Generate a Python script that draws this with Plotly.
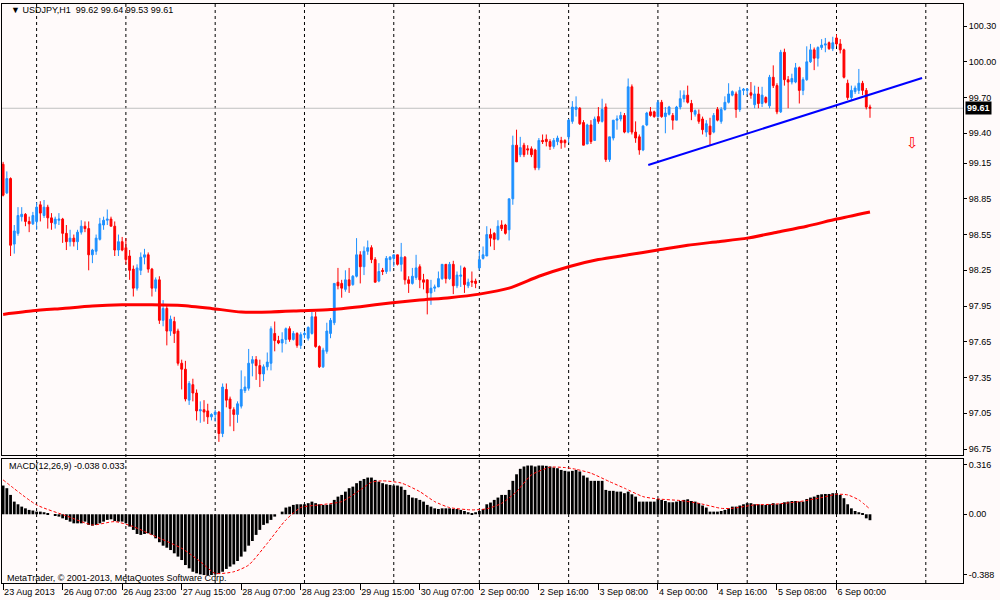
import plotly.graph_objects as go

# USDJPY H1 bars, index 0 = 23 Aug 2013 15:00
opens = [
    99.14, 98.90, 99.02, 98.47, 98.56, 98.70, 98.72, 98.66, 98.64, 98.66,
    98.80, 98.71, 98.78, 98.69, 98.64, 98.67, 98.68, 98.56, 98.49, 98.52,
    98.49, 98.57, 98.62, 98.60, 98.38, 98.41, 98.51, 98.63, 98.67, 98.68,
    98.62, 98.42, 98.49, 98.44, 98.37, 98.26, 98.10, 98.25, 98.36, 98.38,
    98.26, 98.10, 98.17, 97.83, 97.93, 97.74, 97.82, 97.74, 97.47, 97.42,
    97.16, 97.29, 97.22, 97.07, 97.08, 97.07, 97.02, 97.04, 97.06, 96.88,
    97.25, 97.17, 97.08, 97.04, 97.11, 97.24, 97.26, 97.47, 97.50, 97.45,
    97.38, 97.44, 97.47, 97.72, 97.66, 97.64, 97.67, 97.76, 97.67, 97.72,
    97.62, 97.71, 97.68, 97.72, 97.86, 97.61, 97.44, 97.57, 97.72, 97.81,
    98.15, 98.14, 98.09, 98.17, 98.13, 98.20, 98.38, 98.28, 98.41, 98.44,
    98.34, 98.16, 98.25, 98.24, 98.34, 98.35, 98.38, 98.30, 98.36, 98.17,
    98.14, 98.19, 98.28, 98.17, 98.17, 98.06, 98.10, 98.11, 98.18, 98.30,
    98.18, 98.30, 98.12, 98.20, 98.27, 98.12, 98.16, 98.16, 98.27, 98.35,
    98.37, 98.55, 98.56, 98.51, 98.63, 98.63, 98.59, 98.85, 99.30, 99.22,
    99.30, 99.27, 99.27, 99.26, 99.11, 99.34, 99.35, 99.33, 99.29, 99.33,
    99.34, 99.34, 99.37, 99.50, 99.60, 99.61, 99.49, 99.31, 99.47, 99.34,
    99.54, 99.50, 99.62, 99.18, 99.36, 99.51, 99.52, 99.55, 99.41, 99.79,
    99.41, 99.37, 99.26, 99.47, 99.58, 99.58, 99.54, 99.66, 99.54, 99.56,
    99.55, 99.51, 99.62, 99.69, 99.72, 99.65, 99.56, 99.56, 99.52, 99.41,
    99.46, 99.41, 99.60, 99.50, 99.60, 99.66, 99.72, 99.73, 99.60, 99.76,
    99.76, 99.74, 99.64, 99.73, 99.65, 99.70, 99.63, 99.87, 99.80, 99.58,
    100.08, 99.85, 99.83, 99.83, 99.95, 99.76, 99.85, 100.00, 100.10, 100.03,
    100.12, 100.14, 100.16, 100.11, 100.20, 100.15, 100.10, 99.82, 99.70, 99.75,
    99.76, 99.82, 99.76, 99.62,
]
highs = [
    99.16, 99.08, 99.03, 98.63, 98.78, 98.78, 98.73, 98.70, 98.74, 98.82,
    98.83, 98.84, 98.80, 98.73, 98.70, 98.73, 98.69, 98.63, 98.59, 98.55,
    98.59, 98.67, 98.66, 98.66, 98.43, 98.55, 98.69, 98.70, 98.76, 98.70,
    98.66, 98.55, 98.53, 98.52, 98.42, 98.29, 98.30, 98.40, 98.43, 98.40,
    98.27, 98.19, 98.20, 98.00, 97.95, 97.87, 97.86, 97.76, 97.50, 97.49,
    97.32, 97.34, 97.25, 97.15, 97.16, 97.13, 97.05, 97.08, 97.07, 97.30,
    97.30, 97.19, 97.10, 97.15, 97.41, 97.36, 97.59, 97.53, 97.53, 97.50,
    97.46, 97.56, 97.78, 97.82, 97.70, 97.73, 97.77, 97.78, 97.74, 97.73,
    97.73, 97.74, 97.78, 97.90, 97.90, 97.62, 97.60, 97.81, 97.85, 98.14,
    98.27, 98.17, 98.25, 98.27, 98.21, 98.52, 98.41, 98.45, 98.50, 98.46,
    98.36, 98.31, 98.27, 98.37, 98.37, 98.38, 98.38, 98.48, 98.37, 98.20,
    98.27, 98.38, 98.30, 98.22, 98.17, 98.17, 98.13, 98.24, 98.30, 98.30,
    98.32, 98.33, 98.24, 98.29, 98.28, 98.18, 98.24, 98.18, 98.41, 98.45,
    98.62, 98.60, 98.57, 98.67, 98.67, 98.64, 98.85, 99.38, 99.43, 99.37,
    99.32, 99.30, 99.29, 99.27, 99.36, 99.39, 99.39, 99.35, 99.36, 99.38,
    99.37, 99.35, 99.52, 99.67, 99.71, 99.62, 99.51, 99.48, 99.51, 99.54,
    99.62, 99.69, 99.65, 99.37, 99.51, 99.55, 99.58, 99.57, 99.86, 99.81,
    99.50, 99.39, 99.47, 99.58, 99.62, 99.59, 99.68, 99.68, 99.62, 99.63,
    99.57, 99.63, 99.76, 99.76, 99.80, 99.68, 99.60, 99.60, 99.54, 99.51,
    99.53, 99.57, 99.62, 99.62, 99.71, 99.82, 99.76, 99.75, 99.79, 99.78,
    99.78, 99.83, 99.80, 99.79, 99.79, 99.71, 99.89, 99.97, 99.82, 100.10,
    100.11, 99.88, 99.90, 99.99, 99.96, 99.87, 100.13, 100.15, 100.12, 100.13,
    100.19, 100.20, 100.17, 100.21, 100.23, 100.19, 100.11, 99.85, 99.80, 99.80,
    99.94, 99.84, 99.78, 99.64,
]
lows = [
    98.87, 98.89, 98.37, 98.39, 98.54, 98.66, 98.62, 98.57, 98.63, 98.59,
    98.66, 98.69, 98.60, 98.59, 98.60, 98.63, 98.48, 98.42, 98.45, 98.45,
    98.42, 98.55, 98.57, 98.25, 98.31, 98.38, 98.50, 98.59, 98.63, 98.62,
    98.37, 98.37, 98.41, 98.30, 98.17, 98.03, 98.08, 98.21, 98.30, 98.23,
    98.03, 98.07, 97.80, 97.78, 97.62, 97.70, 97.64, 97.45, 97.25, 97.15,
    97.12, 97.15, 96.99, 96.97, 96.98, 96.96, 96.99, 96.98, 96.81, 96.85,
    97.10, 96.94, 96.90, 96.97, 97.09, 97.22, 97.24, 97.36, 97.33, 97.27,
    97.32, 97.41, 97.41, 97.57, 97.63, 97.56, 97.63, 97.65, 97.66, 97.60,
    97.59, 97.68, 97.66, 97.71, 97.60, 97.43, 97.43, 97.55, 97.68, 97.79,
    98.09, 98.02, 98.07, 98.06, 98.12, 98.19, 98.14, 98.21, 98.38, 98.31,
    98.15, 98.15, 98.21, 98.22, 98.24, 98.28, 98.29, 98.24, 98.13, 98.06,
    98.13, 98.17, 98.10, 98.09, 97.88, 97.96, 98.07, 98.11, 98.17, 98.14,
    98.17, 98.05, 98.10, 98.11, 98.06, 98.10, 98.11, 98.10, 98.25, 98.34,
    98.37, 98.45, 98.42, 98.50, 98.58, 98.55, 98.50, 98.80, 99.16, 99.20,
    99.20, 99.22, 99.20, 99.09, 99.09, 99.31, 99.29, 99.26, 99.27, 99.30,
    99.27, 99.28, 99.32, 99.48, 99.54, 99.47, 99.30, 99.31, 99.31, 99.34,
    99.48, 99.49, 99.16, 99.16, 99.34, 99.43, 99.50, 99.40, 99.40, 99.39,
    99.32, 99.22, 99.25, 99.46, 99.54, 99.53, 99.53, 99.53, 99.40, 99.55,
    99.43, 99.51, 99.60, 99.66, 99.65, 99.51, 99.54, 99.48, 99.39, 99.37,
    99.30, 99.40, 99.50, 99.48, 99.59, 99.65, 99.71, 99.53, 99.58, 99.72,
    99.72, 99.69, 99.61, 99.61, 99.62, 99.65, 99.61, 99.78, 99.56, 99.57,
    99.80, 99.61, 99.81, 99.82, 99.65, 99.72, 99.84, 99.99, 99.93, 99.96,
    100.10, 100.08, 100.10, 100.09, 100.13, 100.07, 99.86, 99.68, 99.67, 99.73,
    99.73, 99.72, 99.60, 99.53,
]
closes = [
    98.88, 99.02, 98.46, 98.58, 98.71, 98.72, 98.66, 98.64, 98.71, 98.78,
    98.73, 98.78, 98.69, 98.65, 98.68, 98.68, 98.56, 98.49, 98.52, 98.49,
    98.57, 98.62, 98.60, 98.38, 98.42, 98.52, 98.64, 98.67, 98.68, 98.62,
    98.42, 98.49, 98.42, 98.34, 98.25, 98.10, 98.27, 98.36, 98.38, 98.26,
    98.10, 98.17, 97.83, 97.93, 97.74, 97.84, 97.72, 97.47, 97.42, 97.17,
    97.30, 97.22, 97.07, 97.08, 97.06, 97.02, 97.04, 97.06, 96.88, 97.27,
    97.16, 97.09, 97.04, 97.13, 97.25, 97.27, 97.47, 97.50, 97.45, 97.38,
    97.44, 97.48, 97.76, 97.66, 97.64, 97.67, 97.76, 97.67, 97.72, 97.62,
    97.71, 97.72, 97.77, 97.86, 97.61, 97.44, 97.58, 97.74, 97.83, 98.14,
    98.12, 98.10, 98.17, 98.12, 98.20, 98.38, 98.28, 98.41, 98.44, 98.34,
    98.15, 98.24, 98.24, 98.35, 98.36, 98.38, 98.30, 98.36, 98.17, 98.14,
    98.20, 98.27, 98.17, 98.15, 98.06, 98.10, 98.11, 98.18, 98.30, 98.18,
    98.30, 98.12, 98.21, 98.21, 98.13, 98.15, 98.15, 98.14, 98.34, 98.38,
    98.55, 98.52, 98.51, 98.62, 98.60, 98.56, 98.85, 99.30, 99.16, 99.28,
    99.22, 99.26, 99.22, 99.11, 99.34, 99.33, 99.33, 99.29, 99.34, 99.36,
    99.32, 99.32, 99.51, 99.62, 99.62, 99.48, 99.30, 99.47, 99.33, 99.52,
    99.50, 99.60, 99.18, 99.37, 99.51, 99.52, 99.55, 99.41, 99.79, 99.41,
    99.36, 99.26, 99.46, 99.57, 99.55, 99.54, 99.66, 99.54, 99.57, 99.62,
    99.51, 99.62, 99.69, 99.72, 99.66, 99.58, 99.59, 99.50, 99.43, 99.48,
    99.39, 99.55, 99.51, 99.60, 99.66, 99.73, 99.75, 99.60, 99.76, 99.77,
    99.77, 99.72, 99.73, 99.65, 99.72, 99.66, 99.87, 99.80, 99.58, 100.08,
    99.85, 99.83, 99.86, 99.95, 99.76, 99.85, 100.00, 100.10, 100.03, 100.12,
    100.14, 100.15, 100.11, 100.16, 100.15, 100.10, 99.87, 99.70, 99.76, 99.78,
    99.82, 99.76, 99.62, 99.61,
]

# moving average (red line), read every 8 bars
ma_bars = [0, 8, 16, 24, 32, 40, 48, 56, 64, 72, 80, 88, 96, 104, 112,
           120, 128, 136, 144, 152, 160, 168, 176, 184, 192, 200, 208,
           216, 224, 233]
ma_values = [97.88, 97.91, 97.93, 97.95, 97.96, 97.96, 97.955, 97.93, 97.90,
             97.90, 97.91, 97.92, 97.945, 97.975, 98.00, 98.02, 98.05, 98.10,
             98.20, 98.28, 98.34, 98.38, 98.42, 98.46, 98.49, 98.52, 98.57,
             98.62, 98.68, 98.74]

# MACD(12,26,9) histogram, one value per bar
macd_main = [
    0.184, 0.167, 0.124, 0.081, 0.064, 0.049, 0.038, 0.028, 0.024, 0.017,
    0.017, 0.013, 0.006, 0.000, -0.009, -0.015, -0.026, -0.036, -0.047, -0.058,
    -0.058, -0.058, -0.047, -0.068, -0.073, -0.068, -0.058, -0.047, -0.036, -0.032,
    -0.043, -0.047, -0.047, -0.058, -0.079, -0.100, -0.126, -0.132, -0.126, -0.122,
    -0.132, -0.154, -0.179, -0.201, -0.214, -0.229, -0.250, -0.271, -0.293, -0.325,
    -0.346, -0.368, -0.378, -0.385, -0.389, -0.389, -0.389, -0.385, -0.378, -0.368,
    -0.350, -0.335, -0.321, -0.299, -0.271, -0.239, -0.201, -0.171, -0.132, -0.100,
    -0.068, -0.058, -0.036, -0.015, 0.000, 0.017, 0.043, 0.049, 0.060, 0.064,
    0.064, 0.064, 0.071, 0.081, 0.071, 0.064, 0.060, 0.060, 0.064, 0.092,
    0.113, 0.124, 0.145, 0.167, 0.177, 0.199, 0.214, 0.226, 0.235, 0.235,
    0.220, 0.209, 0.199, 0.192, 0.188, 0.184, 0.184, 0.177, 0.156, 0.124,
    0.107, 0.103, 0.092, 0.081, 0.060, 0.049, 0.038, 0.034, 0.038, 0.038,
    0.038, 0.034, 0.034, 0.028, 0.021, 0.013, 0.006, 0.013, 0.021, 0.034,
    0.064, 0.075, 0.092, 0.107, 0.124, 0.124, 0.156, 0.214, 0.256, 0.291,
    0.306, 0.312, 0.312, 0.306, 0.312, 0.312, 0.310, 0.306, 0.299, 0.295,
    0.284, 0.278, 0.274, 0.278, 0.284, 0.274, 0.248, 0.235, 0.214, 0.214,
    0.214, 0.214, 0.156, 0.150, 0.150, 0.145, 0.145, 0.135, 0.145, 0.128,
    0.113, 0.081, 0.081, 0.081, 0.081, 0.081, 0.098, 0.092, 0.085, 0.077,
    0.077, 0.081, 0.085, 0.092, 0.096, 0.085, 0.081, 0.071, 0.056, 0.043,
    0.017, 0.017, 0.017, 0.021, 0.028, 0.038, 0.049, 0.049, 0.056, 0.064,
    0.071, 0.071, 0.064, 0.064, 0.060, 0.060, 0.064, 0.071, 0.064, 0.068,
    0.077, 0.081, 0.085, 0.085, 0.081, 0.081, 0.098, 0.107, 0.113, 0.124,
    0.128, 0.130, 0.130, 0.135, 0.135, 0.124, 0.103, 0.064, 0.038, 0.021,
    0.013, 0.002, -0.026, -0.038,
]
# signal line (red dashed)
signal_bars = [0, 9, 17, 24, 30, 35, 40, 48, 53, 57, 62, 66, 71, 76, 80, 85,
               91, 96, 99, 102, 107, 112, 116, 120, 126, 130, 134, 138, 142,
               147, 151, 154, 158, 163, 167, 172, 176, 182, 187, 193, 196,
               202, 207, 214, 220, 224, 227, 230, 233]
signal_values = [0.22, 0.06, -0.01, -0.068, -0.047, -0.079, -0.132, -0.218,
                 -0.303, -0.378, -0.368, -0.325, -0.186, -0.036, 0.043, 0.06,
                 0.081, 0.156, 0.205, 0.214, 0.20, 0.145, 0.081, 0.043, 0.028,
                 0.035, 0.07, 0.145, 0.252, 0.301, 0.299, 0.288, 0.263, 0.209,
                 0.167, 0.113, 0.098, 0.088, 0.07, 0.038, 0.038, 0.06, 0.064,
                 0.081, 0.107, 0.128, 0.124, 0.092, 0.033]

# trend line drawn by hand (bar, price)
trend_bars = [173.4, 247.0]
trend_prices = [99.134, 99.864]

# time axis
label_bars = [0, 16, 32, 48, 64, 80, 96, 112, 128, 144, 160, 176, 192, 208, 224]
label_texts = ["23 Aug 2013", "26 Aug 07:00", "26 Aug 23:00", "27 Aug 15:00",
               "28 Aug 07:00", "28 Aug 23:00", "29 Aug 15:00", "30 Aug 07:00",
               "2 Sep 00:00", "2 Sep 16:00", "3 Sep 08:00", "4 Sep 00:00",
               "4 Sep 16:00", "5 Sep 08:00", "6 Sep 00:00"]
day_breaks = [9, 33, 57, 81, 105, 128, 152, 176, 200, 224, 248]

price_ticks = [100.30, 100.00, 99.70, 99.40, 99.15, 98.85, 98.55, 98.25,
               97.95, 97.65, 97.35, 97.05, 96.75]
macd_ticks = [0.316, 0.0, -0.388]
macd_tick_text = ["0.316", "0.00", "-0.388"]

bid = 99.61
sell_arrow = (244.4, 99.32)

BG = "#FFFAFA"
FONT = "Liberation Sans"
bars = list(range(len(closes)))

fig = go.Figure()

fig.add_trace(go.Candlestick(
    x=bars, open=opens, high=highs, low=lows, close=closes,
    increasing=dict(line=dict(color="#1E90FF", width=1), fillcolor="#1E90FF"),
    decreasing=dict(line=dict(color="#FF0000", width=1), fillcolor="#FF0000"),
    whiskerwidth=0, xaxis="x", yaxis="y", hoverinfo="skip",
))
fig.add_trace(go.Scatter(
    x=ma_bars, y=ma_values, mode="lines",
    line=dict(color="#FF0000", width=3, shape="spline", smoothing=0.6),
    xaxis="x", yaxis="y",
))
fig.add_trace(go.Scatter(
    x=trend_bars, y=trend_prices, mode="lines",
    line=dict(color="#0000FF", width=2), xaxis="x", yaxis="y",
))
fig.add_trace(go.Bar(
    x=bars, y=macd_main, marker=dict(color="#000000", line=dict(width=0)),
    xaxis="x2", yaxis="y2",
))
fig.add_trace(go.Scatter(
    x=signal_bars, y=signal_values, mode="lines",
    line=dict(color="#FF0000", width=1, dash="3px,2px", shape="spline", smoothing=0.6),
    xaxis="x2", yaxis="y2",
))

shapes = []
for b in day_breaks:
    shapes.append(dict(type="line", xref="x", yref="paper", x0=b, x1=b, y0=0, y1=1,
                       line=dict(color="#000000", width=1, dash="dot"), layer="below"))
shapes.append(dict(type="line", xref="paper", yref="y", x0=0, x1=1, y0=bid, y1=bid,
                   line=dict(color="#C0C0C0", width=1), layer="below"))

annotations = [
    dict(text="▼ USDJPY,H1  99.62 99.64 99.53 99.61", xref="paper", yref="paper",
         x=0.007, y=0.990, xanchor="left", yanchor="middle", showarrow=False,
         font=dict(family=FONT, size=9, color="#000000")),
    dict(text="MACD(12,26,9) -0.038 0.033", xref="paper", yref="paper",
         x=0.005, y=0.202, xanchor="left", yanchor="middle", showarrow=False,
         font=dict(family=FONT, size=9, color="#000000")),
    dict(text="MetaTrader, © 2001-2013, MetaQuotes Software Corp.", xref="paper",
         yref="paper", x=0.003, y=0.009, xanchor="left", yanchor="middle",
         showarrow=False, font=dict(family=FONT, size=9, color="#000000")),
    dict(text="<b>" + f"{bid:.2f}" + "</b>", xref="paper", yref="y", x=1.002, y=bid,
         xanchor="left", yanchor="middle", showarrow=False, bgcolor="#000000",
         borderpad=1, font=dict(family=FONT, size=9, color="#FFFFFF")),
    dict(text="⇩", xref="x", yref="y", x=sell_arrow[0], y=sell_arrow[1],
         showarrow=False, font=dict(family="DejaVu Sans", size=15, color="#FF0000")),
]

axis_common = dict(showgrid=False, zeroline=False, showline=True, mirror=True,
                   linecolor="#000000", linewidth=1)

fig.update_layout(
    width=1000, height=600,
    margin=dict(l=2, r=37, t=4, b=17, autoexpand=False),
    paper_bgcolor=BG, plot_bgcolor=BG,
    showlegend=False, bargap=0.25,
    font=dict(family=FONT, size=9, color="#000000"),
    shapes=shapes, annotations=annotations,
    xaxis=dict(domain=[0, 1], anchor="y", range=[-0.3, 258], showticklabels=False,
               rangeslider=dict(visible=False), **axis_common),
    yaxis=dict(domain=[0.2211, 1], anchor="x", side="right", range=[96.70, 100.485],
               tickvals=price_ticks, ticktext=[f"{v:.2f}" for v in price_ticks],
               ticks="outside", ticklen=3, tickcolor="#000000", **axis_common),
    xaxis2=dict(domain=[0, 1], anchor="y2", matches="x", range=[-0.3, 258],
                tickvals=label_bars, ticktext=label_texts, tickangle=0,
                ticklabelposition="outside right", ticks="outside", ticklen=6,
                tickcolor="#000000", **axis_common),
    yaxis2=dict(domain=[0, 0.2142], anchor="x2", side="right", range=[-0.44, 0.354],
                tickvals=macd_ticks, ticktext=macd_tick_text,
                ticks="outside", ticklen=3, tickcolor="#000000", **axis_common),
)

# page has no margin so the 1000x600 figure fills the window exactly
fig.write_html("out.html", config={"displayModeBar": False},
               post_script="document.body.style.margin='0';document.body.style.overflow='hidden';")
